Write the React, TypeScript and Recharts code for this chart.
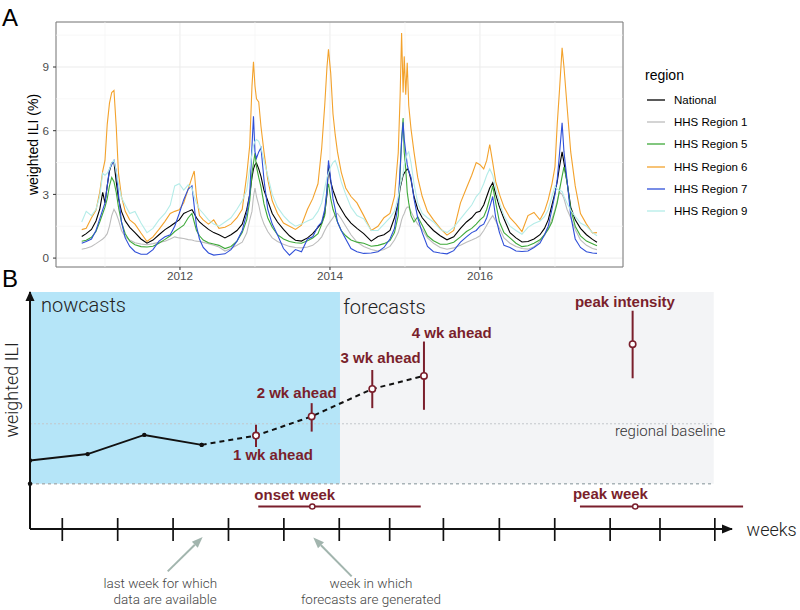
import React from 'react';
import {
  LineChart,
  ComposedChart,
  Line,
  XAxis,
  YAxis,
  CartesianGrid,
  ReferenceLine,
  ReferenceArea,
  ReferenceDot,
  Legend,
  ErrorBar,
} from 'recharts';

// ---------------- Panel A: weekly weighted ILI by region ----------------
const weeks = [
  2010.69, 2010.75, 2010.82, 2010.88, 2010.93, 2010.97, 2011.0, 2011.03, 2011.06, 2011.09,
  2011.12, 2011.15, 2011.18, 2011.22, 2011.27, 2011.33, 2011.4, 2011.48, 2011.56, 2011.64,
  2011.72, 2011.8, 2011.87, 2011.93, 2011.99, 2012.05, 2012.11, 2012.16, 2012.19, 2012.22,
  2012.26, 2012.31, 2012.38, 2012.45, 2012.52,
  2012.6, 2012.68, 2012.76, 2012.83, 2012.89, 2012.93, 2012.96, 2012.98, 2013.0, 2013.02,
  2013.05, 2013.08, 2013.12, 2013.17, 2013.23, 2013.3, 2013.38, 2013.46, 2013.54, 2013.62,
  2013.7, 2013.77, 2013.84, 2013.89, 2013.93, 2013.96, 2013.98, 2014.01, 2014.04, 2014.07,
  2014.1, 2014.15, 2014.21, 2014.28, 2014.36, 2014.45,
  2014.55, 2014.64, 2014.72, 2014.8, 2014.86, 2014.91, 2014.935, 2014.955, 2014.975, 2014.99,
  2015.01, 2015.03, 2015.05, 2015.08, 2015.12, 2015.17, 2015.23, 2015.3, 2015.38, 2015.47,
  2015.56, 2015.65, 2015.74, 2015.82, 2015.89, 2015.95, 2016.0, 2016.05, 2016.09, 2016.13,
  2016.17, 2016.21, 2016.26, 2016.32,
  2016.4, 2016.48, 2016.56, 2016.64, 2016.72, 2016.8, 2016.86, 2016.91, 2016.96, 2017.0,
  2017.03, 2017.06, 2017.095, 2017.12, 2017.16, 2017.21, 2017.27, 2017.34, 2017.42, 2017.5,
  2017.56,
];

const national = [
  1.02, 1.15, 1.35, 1.75, 2.3, 3.1, 2.6, 3.4, 4.1, 4.5, 4.5, 3.6, 2.8, 2.2, 1.75, 1.45, 1.2, 0.9, 0.7, 0.85,
  1.1, 1.34, 1.5, 1.65, 1.8, 2.1, 2.2, 2.28, 2.1, 1.9, 1.7, 1.55, 1.35, 1.2, 1.1,
  0.95, 1.1, 1.3, 1.6, 2.28, 3.0, 3.8, 4.2, 4.4, 4.48, 4.2, 3.85, 3.2, 2.7, 2.1, 1.7, 1.35, 1.05, 0.84, 0.8,
  0.95, 1.15, 1.45, 1.65, 2.1, 3.0, 4.4, 3.6, 3.2, 2.9, 2.6, 2.3, 1.95, 1.65, 1.4, 1.15,
  0.8, 1.02, 1.1, 1.3, 1.9, 2.6, 3.3, 3.6, 3.9, 4.0, 4.1, 4.2, 4.1, 3.7, 2.9, 2.3, 1.9, 1.6, 1.3, 1.05,
  0.86, 1.0, 1.4, 1.7, 1.9, 2.15, 2.2, 2.5, 2.9, 3.3, 3.55, 3.0, 2.4, 1.85,
  1.2, 0.95, 0.76, 0.78, 0.9, 1.1, 1.4, 1.8, 2.5, 3.07, 3.6, 4.3, 5.0, 4.5, 3.6, 2.4, 1.8, 1.4, 1.1, 0.88,
  0.75,
];

const region1 = [
  0.42, 0.46, 0.55, 0.68, 0.8, 0.9, 1.0, 1.15, 1.5, 2.0, 2.3, 2.1, 1.8, 1.3, 1.0, 0.85, 0.72, 0.66, 0.63, 0.68,
  0.74, 0.79, 0.9, 1.0, 0.95, 0.92, 0.87, 0.85, 0.82, 0.8, 0.78, 0.74, 0.68, 0.6, 0.52,
  0.33, 0.45, 0.6, 0.75, 1.18, 1.8, 2.2, 2.9, 3.3, 2.9, 2.5, 2.0, 1.6, 1.25, 0.95, 0.78, 0.65, 0.55, 0.5, 0.48,
  0.52, 0.6, 0.8, 1.0, 1.3, 1.5, 1.6, 1.75, 1.9, 2.05, 2.1, 1.85, 1.5, 1.1, 0.75, 0.55,
  0.4, 0.33, 0.4, 0.55, 0.85, 1.2, 1.5, 1.8, 2.0, 2.1, 2.3, 2.4, 2.4, 2.2, 1.9, 1.6, 1.35, 0.95, 0.7, 0.5,
  0.42, 0.48, 0.6, 0.75, 0.85, 0.95, 1.05, 1.3, 1.55, 1.8, 2.0, 1.75, 1.4, 0.95,
  0.7, 0.55, 0.45, 0.42, 0.53, 0.8, 1.05, 1.4, 1.85, 2.28, 2.7, 3.1, 3.0, 2.8, 2.3, 1.9, 1.35, 0.86, 0.6, 0.45,
  0.4,
];

const region5 = [
  0.79, 0.84, 0.98, 1.25, 1.7, 2.1, 2.4, 2.8, 3.4, 3.8, 3.6, 3.1, 2.4, 1.7, 1.15, 0.8, 0.63, 0.54, 0.52, 0.56,
  0.7, 0.88, 1.05, 1.25, 1.4, 1.55, 1.9, 2.1, 1.7, 1.3, 1.05, 0.85, 0.72, 0.66, 0.6,
  0.45, 0.55, 0.8, 1.2, 1.8, 2.7, 4.0, 4.48, 4.95, 4.3, 3.8, 3.35, 2.55, 1.9, 1.45, 1.1, 0.9, 0.78, 0.72, 0.7,
  0.82, 0.95, 1.15, 1.6, 2.0, 3.2, 3.5, 2.8, 2.3, 2.0, 1.7, 1.3, 1.05, 0.85, 0.75, 0.7,
  0.56, 0.6, 0.68, 0.82, 1.2, 2.0, 4.0, 5.6, 6.6, 5.0, 4.2, 3.1, 2.6, 2.0, 1.7, 1.95, 1.55, 1.05, 0.82, 0.65,
  0.65, 0.75, 1.0, 1.25, 1.4, 1.6, 1.8, 1.95, 2.3, 2.8, 3.4, 2.6, 1.7, 1.2,
  0.95, 0.7, 0.54, 0.58, 0.7, 0.86, 1.1, 1.35, 1.7, 2.2, 2.6, 3.2, 3.85, 4.3, 3.6, 2.3, 1.5, 1.05, 0.8, 0.68,
  0.58,
];

const region6 = [
  1.34, 1.4, 1.9, 2.25, 3.1, 4.1, 4.6, 6.3, 7.3, 7.8, 7.9, 6.2, 4.0, 2.9, 2.2, 1.8, 1.6, 1.18, 0.78, 1.0,
  1.35, 1.73, 2.1, 2.2, 2.27, 2.6, 3.25, 3.8, 4.1, 2.9, 2.0, 1.8, 1.6, 1.8, 1.4,
  1.45, 1.6, 1.9, 2.3, 3.9, 5.3, 8.1, 9.25, 8.1, 7.5, 7.35, 6.2, 5.0, 3.7, 2.7, 2.1, 1.65, 1.5, 1.35, 1.55,
  2.3, 2.8, 3.5, 5.2, 7.2, 9.0, 9.83, 8.7, 6.8, 5.8, 5.0, 4.05, 3.3, 2.9, 2.6, 2.0,
  1.3, 1.5, 1.9, 2.1, 2.9, 4.95, 7.6, 10.6, 7.8, 9.5, 7.7, 9.2, 7.2, 6.1, 5.0, 3.8, 2.9, 2.2, 1.8, 1.4,
  1.08, 1.3, 2.6, 3.3, 3.9, 4.5, 4.4, 4.2, 4.6, 5.35, 4.5, 3.6, 3.0, 2.4,
  1.9, 1.6, 1.25, 2.0, 2.15, 1.8, 2.2, 2.75, 3.5, 4.3, 6.3, 7.9, 9.9, 9.0, 7.2, 5.0, 3.4, 2.1, 1.6, 1.18,
  1.2,
];

const region7 = [
  0.7, 0.78, 0.9, 1.3, 1.85, 2.28, 2.6, 3.4, 4.2, 4.4, 4.6, 4.1, 3.0, 1.7, 0.95, 0.55, 0.3, 0.18, 0.18, 0.4,
  0.8, 1.0, 1.1, 1.5, 2.1, 2.75, 3.25, 3.4, 2.44, 1.5, 0.9, 0.5, 0.24, 0.14, 0.17,
  0.2, 0.4, 0.8, 1.3, 2.1, 3.0, 5.27, 6.68, 5.0, 4.7, 5.0, 5.2, 3.7, 2.3, 1.6, 1.1, 0.45, 0.14, 0.4, 0.3,
  0.9, 1.0, 1.5, 1.7, 2.3, 3.2, 4.6, 3.7, 2.8, 2.3, 1.7, 1.3, 0.9, 0.45, 0.3, 0.22,
  0.24, 0.3, 0.5, 0.9, 1.4, 2.6, 4.2, 5.5, 6.4, 5.6, 5.0, 4.4, 4.1, 3.8, 2.8, 1.9, 1.2, 0.55, 0.3, 0.24,
  0.2, 0.35, 0.75, 1.0, 1.2, 1.3, 1.5, 1.6, 1.9, 2.4, 2.9, 1.9, 1.2, 0.6,
  0.5, 0.33, 0.31, 0.33, 0.5, 0.7, 1.1, 1.5, 2.3, 3.0, 3.7, 4.9, 6.37, 5.0, 3.7, 2.0, 0.9, 0.5, 0.3, 0.24,
  0.22,
];

const region9 = [
  1.7, 2.2, 2.0, 2.3, 2.9, 4.0, 3.9, 4.0, 4.2, 4.5, 4.6, 4.1, 3.5, 2.85, 2.5, 2.1, 2.2, 1.65, 1.2, 1.4,
  1.8, 2.1, 2.5, 3.4, 3.5, 3.2, 3.45, 3.3, 2.9, 2.6, 2.3, 2.1, 1.8, 1.6, 1.5,
  1.7, 1.9, 2.3, 2.7, 3.2, 4.2, 4.9, 5.3, 5.5, 5.58, 5.5, 5.2, 4.6, 3.9, 3.0, 2.4, 2.0, 1.7, 1.5, 1.6,
  1.75, 1.85, 2.2, 2.6, 3.3, 3.8, 4.0, 4.3, 4.5, 4.6, 4.3, 3.6, 3.0, 2.4, 2.0, 1.85,
  1.3, 1.3, 1.6, 1.9, 2.2, 2.9, 3.4, 3.7, 4.0, 4.4, 4.64, 4.9, 5.0, 4.5, 3.5, 2.6, 2.1, 1.9, 1.7, 1.35,
  1.2, 1.45, 1.85, 2.2, 2.5, 2.9, 3.1, 3.5, 3.9, 4.2, 3.9, 3.3, 2.6, 2.0,
  1.5, 1.3, 1.12, 1.45, 1.63, 1.75, 1.95, 2.28, 2.9, 3.38, 3.25, 3.2, 3.14, 2.9, 2.6, 2.25, 1.95, 1.65, 1.5, 1.2,
  1.05,
];

const seriesNames = ['National', 'HHS Region 1', 'HHS Region 5', 'HHS Region 6', 'HHS Region 7', 'HHS Region 9'];
const seriesColors = ['#000000', '#bdbdbd', '#3fa93a', '#f3a22c', '#2f4fd8', '#b4ece8'];
const seriesValues = [national, region1, region5, region6, region7, region9];

const yearTicks = [2012, 2014, 2016];
const minorYears = [2011, 2013, 2015, 2017];
const iliTicks = [0, 3, 6, 9];
const minorIli = [1.5, 4.5, 7.5, 10.5];
const yearDomain: [number, number] = [2010.347, 2017.907];
const iliDomain: [number, number] = [-0.42, 11.12];

const panelAData = weeks.map((t, i) => {
  const row: Record<string, number> = { t };
  seriesNames.forEach((name, k) => {
    row[name] = seriesValues[k][i];
  });
  return row;
});

// ---------------- Panel B: schematic of forecasting targets ----------------
const weekTicks = [1, 2, 3, 4, 5, 6, 6.91, 7.88, 8.89, 9.89, 10.89, 11.79, 12.78];
const weekDomain: [number, number] = [0.417, 13.09];
const schematicDomain: [number, number] = [0, 10];

const observedWeek = [0.417, 1.458, 2.48, 3.516];
const observedILI = [2.89, 3.16, 3.97, 3.55];

const forecastWeek = [3.516, 4.497, 5.502, 6.596, 7.529];
const forecastILI = [3.55, 3.94, 4.75, 5.91, 6.46];
const forecastLow = [3.55, 3.46, 4.11, 5.1, 5.03];
const forecastHigh = [3.55, 4.4, 5.31, 6.71, 7.91];

const peakIntensityWeek = [11.296];
const peakIntensityILI = [7.8];
const peakIntensityLow = [6.36];
const peakIntensityHigh = [9.21];

const timingWeek = [5.513, 11.343];
const timingLow = [4.538, 10.345];
const timingHigh = [7.471, 13.29];
const timingLevel = 0.95;

const baselineILI = 4.44;
const floorILI = 1.91;
const nowcastEnd = 6.013;
const shadedEnd = 12.76;

const pointerTail = [
  { x: 2.903, y: -1.787 },
  { x: 6.224, y: -1.997 },
];
const pointerTip = [
  { x: 3.534, y: -0.337 },
  { x: 5.531, y: -0.354 },
];

type Kind = 'big' | 'bold' | 'note' | 'base' | 'axis';
const annotations: { text: string; x: number; y: number; anchor: 'start' | 'middle'; kind: Kind; rotate?: boolean }[] = [
  { text: 'nowcasts', x: 0.615, y: 9.17, anchor: 'start', kind: 'big' },
  { text: 'forecasts', x: 6.072, y: 9.07, anchor: 'start', kind: 'big' },
  { text: '1 wk ahead', x: 4.803, y: 2.92, anchor: 'middle', kind: 'bold' },
  { text: '2 wk ahead', x: 5.231, y: 5.52, anchor: 'middle', kind: 'bold' },
  { text: '3 wk ahead', x: 6.747, y: 7.0, anchor: 'middle', kind: 'bold' },
  { text: '4 wk ahead', x: 8.031, y: 8.07, anchor: 'middle', kind: 'bold' },
  { text: 'peak intensity', x: 11.157, y: 9.38, anchor: 'middle', kind: 'bold' },
  { text: 'regional baseline', x: 10.977, y: 3.93, anchor: 'start', kind: 'base' },
  { text: 'onset week', x: 5.197, y: 1.205, anchor: 'middle', kind: 'bold' },
  { text: 'peak week', x: 10.895, y: 1.264, anchor: 'middle', kind: 'bold' },
  { text: 'weeks', x: 13.353, y: -0.312, anchor: 'start', kind: 'axis' },
  { text: 'last week for which', x: 2.769, y: -2.486, anchor: 'middle', kind: 'note' },
  { text: 'data are available', x: 2.857, y: -3.148, anchor: 'middle', kind: 'note' },
  { text: 'week in which', x: 6.572, y: -2.486, anchor: 'middle', kind: 'note' },
  { text: 'forecasts are generated', x: 6.572, y: -3.148, anchor: 'middle', kind: 'note' },
  { text: 'weighted ILI', x: 0.092, y: 5.87, anchor: 'middle', kind: 'axis', rotate: true },
];

const observedData = observedWeek.map((x, i) => ({ x, y: observedILI[i] }));
const forecastData = forecastWeek.map((x, i) => ({
  x,
  y: forecastILI[i],
  err: [forecastILI[i] - forecastLow[i], forecastHigh[i] - forecastILI[i]],
}));
const peakIntensityData = peakIntensityWeek.map((x, i) => ({
  x,
  y: peakIntensityILI[i],
  err: [peakIntensityILI[i] - peakIntensityLow[i], peakIntensityHigh[i] - peakIntensityILI[i]],
}));

// ---------------- styling ----------------
const SANS = '"Liberation Sans", Arial, Helvetica, sans-serif';
const LIGHT = 'Roboto, "Liberation Sans", Arial, sans-serif';
const RED = '#7a1f2c';
const ARROW = '#a2b5ae';
const INK = '#111111';

const kindStyle: Record<Kind, React.CSSProperties> = {
  big: { fontFamily: LIGHT, fontWeight: 300, fontSize: 20, fill: '#222' },
  bold: { fontFamily: SANS, fontWeight: 700, fontSize: 15, fill: RED },
  note: { fontFamily: LIGHT, fontWeight: 300, fontSize: 13.5, fill: '#444' },
  base: { fontFamily: LIGHT, fontWeight: 300, fontSize: 15, fill: '#333' },
  axis: { fontFamily: LIGHT, fontWeight: 300, fontSize: 18, fill: '#222' },
};

const arrowShape = (p: any) => {
  const { x1, y1, x2, y2 } = p;
  const ang = Math.atan2(y2 - y1, x2 - x1);
  const L = 11;
  const W = 4.2;
  const bx = x2 - L * Math.cos(ang);
  const by = y2 - L * Math.sin(ang);
  const px = -Math.sin(ang) * W;
  const py = Math.cos(ang) * W;
  return (
    <g>
      <line x1={x1} y1={y1} x2={bx} y2={by} stroke={ARROW} strokeWidth={2} />
      <polygon points={`${x2},${y2} ${bx + px},${by + py} ${bx - px},${by - py}`} fill={ARROW} />
    </g>
  );
};

const renderLegend = () => (
  <div style={{ fontFamily: SANS, color: '#000' }}>
    <div style={{ fontSize: 14, height: 25, lineHeight: '22px' }}>region</div>
    {seriesNames.map((name, i) => (
      <div key={name} style={{ display: 'flex', alignItems: 'center', height: 22.2 }}>
        <svg width={20} height={22} style={{ display: 'block' }}>
          <line x1={2} x2={20} y1={11} y2={11} stroke={seriesColors[i]} strokeWidth={1.3} />
        </svg>
        <span style={{ fontSize: 11.5, marginLeft: 9, whiteSpace: 'nowrap' }}>{name}</span>
      </div>
    ))}
  </div>
);

export default function App() {
  return (
    <div style={{ position: 'absolute', left: 0, top: 0, width: 800, height: 610, background: '#fff', overflow: 'hidden' }}>
      {/* Panel A */}
      <div style={{ position: 'absolute', left: 0, top: 0 }}>
        <LineChart width={800} height={290} data={panelAData} margin={{ top: 22, right: 177, bottom: 3, left: 10 }}>
          <CartesianGrid stroke="#ebebeb" strokeWidth={1} />
          {minorYears.map((y) => (
            <ReferenceLine key={`mx${y}`} x={y} stroke="#f4f4f4" strokeWidth={0.7} />
          ))}
          {minorIli.map((v) => (
            <ReferenceLine key={`my${v}`} y={v} stroke="#f4f4f4" strokeWidth={0.7} />
          ))}
          <XAxis
            dataKey="t"
            type="number"
            domain={yearDomain}
            allowDataOverflow
            ticks={yearTicks}
            interval={0}
            height={20}
            tickSize={3}
            tickMargin={2}
            axisLine={false}
            tickLine={{ stroke: '#333' }}
            tick={{ fill: '#4d4d4d', fontSize: 11.7, fontFamily: SANS }}
          />
          <YAxis
            type="number"
            domain={iliDomain}
            allowDataOverflow
            ticks={iliTicks}
            interval={0}
            width={46}
            tickSize={3}
            tickMargin={4}
            axisLine={false}
            tickLine={{ stroke: '#333' }}
            tick={{ fill: '#4d4d4d', fontSize: 11.7, fontFamily: SANS }}
            label={{ value: 'weighted ILI (%)', angle: -90, position: 'center', fill: '#000', fontSize: 14, fontFamily: SANS }}
          />
          {seriesNames.map((name, i) => (
            <Line
              key={name}
              type="linear"
              dataKey={name}
              stroke={seriesColors[i]}
              strokeWidth={1.1}
              dot={false}
              isAnimationActive={false}
            />
          ))}
          <ReferenceArea
            x1={yearDomain[0]}
            x2={yearDomain[1]}
            y1={iliDomain[0]}
            y2={iliDomain[1]}
            fill="none"
            stroke="#7a7a7a"
            strokeWidth={1}
            ifOverflow="visible"
          />
          <Legend
            layout="horizontal"
            verticalAlign="middle"
            align="center"
            content={renderLegend}
            wrapperStyle={{ left: 645, top: 64, width: 150 }}
          />
        </LineChart>
      </div>
      <div style={{ position: 'absolute', left: 2, top: 6, fontFamily: SANS, fontSize: 24, lineHeight: '24px', color: '#000' }}>A</div>

      {/* Panel B */}
      <div style={{ position: 'absolute', left: 0, top: 270 }}>
        <ComposedChart width={800} height={340} margin={{ top: 22, right: 68, bottom: 61, left: 0 }}>
          <ReferenceArea x1={weekDomain[0]} x2={nowcastEnd} y1={floorILI} y2={schematicDomain[1]} fill="#b5e5f8" fillOpacity={1} stroke="none" ifOverflow="visible" />
          <ReferenceArea x1={nowcastEnd} x2={shadedEnd} y1={floorILI} y2={schematicDomain[1]} fill="#f3f4f6" fillOpacity={1} stroke="none" ifOverflow="visible" />
          <ReferenceLine
            segment={[{ x: weekDomain[0], y: baselineILI }, { x: shadedEnd, y: baselineILI }]}
            stroke="#c4c8cb"
            strokeWidth={1}
            strokeDasharray="2 2"
            ifOverflow="visible"
          />
          <ReferenceLine
            segment={[{ x: weekDomain[0], y: floorILI }, { x: shadedEnd, y: floorILI }]}
            stroke="#a9b4b8"
            strokeWidth={1.5}
            strokeDasharray="3 3"
            ifOverflow="visible"
          />
          <XAxis
            dataKey="x"
            type="number"
            domain={weekDomain}
            allowDataOverflow
            ticks={weekTicks}
            interval={0}
            height={20}
            tickSize={0}
            tickMargin={0}
            tickLine={false}
            axisLine={{ stroke: INK, strokeWidth: 2 }}
            tick={(p: any) => <line x1={p.x} x2={p.x} y1={p.y - 11} y2={p.y + 12} stroke={INK} strokeWidth={1.7} />}
          />
          <YAxis
            type="number"
            domain={schematicDomain}
            allowDataOverflow
            width={30}
            tick={false}
            tickLine={false}
            axisLine={{ stroke: INK, strokeWidth: 2 }}
          />
          <Line
            data={observedData}
            dataKey="y"
            type="linear"
            stroke={INK}
            strokeWidth={2}
            isAnimationActive={false}
            dot={(p: any) => <circle key={`o${p.index}`} cx={p.cx} cy={p.cy} r={2.2} fill={INK} />}
          />
          <Line
            data={forecastData}
            dataKey="y"
            type="linear"
            stroke={INK}
            strokeWidth={2}
            strokeDasharray="5 4"
            isAnimationActive={false}
            dot={(p: any) =>
              p.index === 0 ? (
                <circle key={`f${p.index}`} cx={p.cx} cy={p.cy} r={2.2} fill={INK} />
              ) : (
                <circle key={`f${p.index}`} cx={p.cx} cy={p.cy} r={3.2} fill="#fff" stroke={RED} strokeWidth={1.6} />
              )
            }
          >
            <ErrorBar dataKey="err" direction="y" width={0} stroke={RED} strokeWidth={2} />
          </Line>
          <Line
            data={peakIntensityData}
            dataKey="y"
            type="linear"
            stroke="none"
            isAnimationActive={false}
            dot={(p: any) => <circle key={`p${p.index}`} cx={p.cx} cy={p.cy} r={3.2} fill="#fff" stroke={RED} strokeWidth={1.6} />}
          >
            <ErrorBar dataKey="err" direction="y" width={0} stroke={RED} strokeWidth={2} />
          </Line>
          {timingWeek.map((w, i) => (
            <ReferenceLine
              key={`tl${i}`}
              segment={[{ x: timingLow[i], y: timingLevel }, { x: timingHigh[i], y: timingLevel }]}
              stroke={RED}
              strokeWidth={2}
              ifOverflow="visible"
            />
          ))}
          {timingWeek.map((w, i) => (
            <ReferenceDot key={`td${i}`} x={w} y={timingLevel} r={2.6} fill="#fff" stroke={RED} strokeWidth={1.5} ifOverflow="visible" />
          ))}
          <ReferenceDot x={weekDomain[0]} y={floorILI} r={2.2} fill={INK} stroke="none" ifOverflow="visible" />
          <ReferenceDot
            x={weekDomain[1]}
            y={schematicDomain[0]}
            r={0}
            ifOverflow="visible"
            shape={(p: any) => <polygon points={`${p.cx + 1},${p.cy} ${p.cx - 10},${p.cy - 4.5} ${p.cx - 10},${p.cy + 4.5}`} fill={INK} />}
          />
          <ReferenceDot
            x={weekDomain[0]}
            y={schematicDomain[1]}
            r={0}
            ifOverflow="visible"
            shape={(p: any) => <polygon points={`${p.cx},${p.cy - 1} ${p.cx - 4.5},${p.cy + 9} ${p.cx + 4.5},${p.cy + 9}`} fill={INK} />}
          />
          {pointerTail.map((t, i) => (
            <ReferenceLine key={`ar${i}`} segment={[t, pointerTip[i]]} ifOverflow="visible" shape={arrowShape} />
          ))}
          {annotations.map((a) => (
            <ReferenceDot
              key={a.text}
              x={a.x}
              y={a.y}
              r={0}
              ifOverflow="visible"
              shape={(p: any) => (
                <text
                  x={p.cx}
                  y={p.cy}
                  textAnchor={a.anchor}
                  dominantBaseline={a.rotate ? 'central' : undefined}
                  transform={a.rotate ? `rotate(-90 ${p.cx} ${p.cy})` : undefined}
                  style={kindStyle[a.kind]}
                >
                  {a.text}
                </text>
              )}
            />
          ))}
        </ComposedChart>
      </div>
      <div style={{ position: 'absolute', left: 2, top: 267, fontFamily: SANS, fontSize: 24, lineHeight: '24px', color: '#000' }}>B</div>
    </div>
  );
}
